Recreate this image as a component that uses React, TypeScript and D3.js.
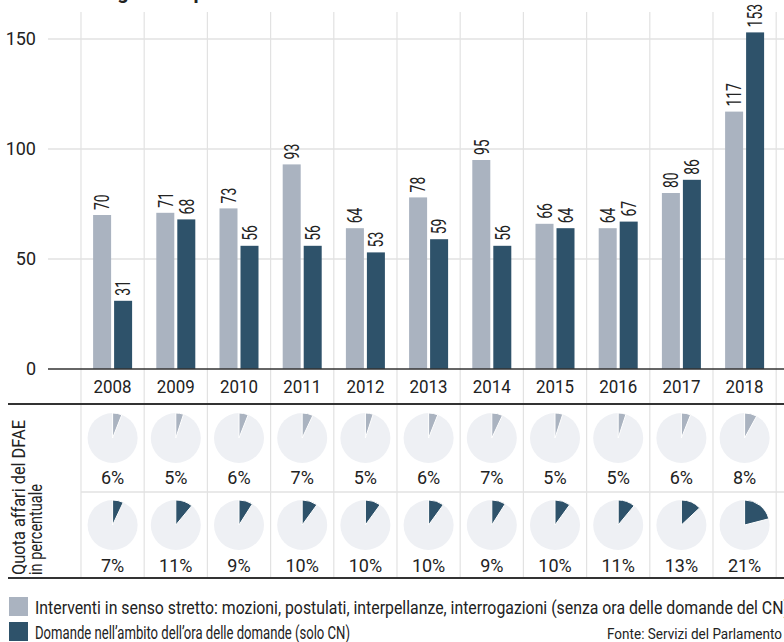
import React from 'react';
import * as d3 from 'd3';

const years = ['2008', '2009', '2010', '2011', '2012', '2013', '2014', '2015', '2016', '2017', '2018'];
const interventi = [70, 71, 73, 93, 64, 78, 95, 66, 64, 80, 117];
const domande = [31, 68, 56, 56, 53, 59, 56, 64, 67, 86, 153];
const quotaInterventi = [6, 5, 6, 7, 5, 6, 7, 5, 5, 6, 8];
const quotaDomande = [7, 11, 9, 10, 10, 10, 9, 10, 11, 13, 21];
const yTicks = [0, 50, 100, 150];

const title = 'Interventi legati alla politica estera in Parlamento';
const legend1 = 'Interventi in senso stretto: mozioni, postulati, interpellanze, interrogazioni (senza ora delle domande del CN)';
const legend2 = 'Domande nell\u2019ambito dell\u2019ora delle domande (solo CN)';
const source = 'Fonte: Servizi del Parlamento';
const rowLabel1 = 'Quota affari del DFAE';
const rowLabel2 = 'in percentuale';

const W = 784;
const H = 642;
const GRAY = '#aab3c0';
const DARK = '#2e526a';
const PIEBG = '#eef0f4';
const GRID = '#e2e2e2';
const INK = '#222';
const FONT = 'Roboto, "Noto Sans", sans-serif';

export default function App() {
  const x = d3.scaleBand<string>().domain(years).range([81, 776.2]).paddingInner(0).paddingOuter(0);
  const y = d3.scaleLinear().domain([0, 150]).range([369, 39]);
  const bw = x.bandwidth();
  const barW = 18;
  const gridXs = [...years.map((yr) => x(yr) as number), x.range()[1]];

  const pie = d3.pie<number>().sort(null).value((d) => d);
  const arc = d3.arc<d3.PieArcDatum<number>>().innerRadius(0).outerRadius(25);

  const valueLabel = (v: number, cx: number, key: string) => (
    <text
      key={key}
      transform={`translate(${cx},${y(v) - 5}) rotate(-90)`}
      textAnchor="start"
      dy="0.36em"
      fontSize={20}
      fill={INK}
      textLength={String(v).length * 7.8}
      lengthAdjust="spacingAndGlyphs"
    >
      {v}
    </text>
  );

  const pieCell = (p: number, cx: number, cy: number, color: string, key: string) => {
    const arcs = pie([p, 100 - p]);
    return (
      <g key={key} transform={`translate(${cx},${cy})`}>
        <circle r={25} fill={PIEBG} />
        <path d={arc(arcs[0]) || ''} fill={color} stroke="#fff" strokeWidth={1} />
      </g>
    );
  };

  return (
    <div style={{ position: 'fixed', left: 0, top: 0, width: W, height: H, background: '#fff' }}>
      <svg width={W} height={H} style={{ display: 'block', fontFamily: FONT }}>
        {/* clipped title */}
        <text x={10} y={-1} fontSize={20} fontWeight={700} fill={INK}>{title}</text>

        {/* horizontal grid */}
        {yTicks.filter((t) => t > 0).map((t) => (
          <line key={'hg' + t} x1={48} x2={W} y1={y(t)} y2={y(t)} stroke={GRID} strokeWidth={1.5} />
        ))}
        {/* vertical grid */}
        {gridXs.map((gx, i) => (
          <line key={'vg' + i} x1={gx} x2={gx} y1={12} y2={578} stroke={GRID} strokeWidth={1.2} />
        ))}
        {/* pie row separator */}
        <line x1={81} x2={W} y1={492} y2={492} stroke={GRID} strokeWidth={1.5} />

        {/* bars */}
        {years.map((yr, i) => {
          const cx = (x(yr) as number) + bw / 2;
          return (
            <g key={'b' + yr}>
              <rect x={cx - 19.5} y={y(interventi[i])} width={barW} height={y(0) - y(interventi[i])} fill={GRAY} />
              <rect x={cx + 1.5} y={y(domande[i])} width={barW} height={y(0) - y(domande[i])} fill={DARK} />
              {valueLabel(interventi[i], cx - 10.5, 'vl1' + yr)}
              {valueLabel(domande[i], cx + 10.5, 'vl2' + yr)}
            </g>
          );
        })}

        {/* y axis labels */}
        {yTicks.map((t) => (
          <text key={'yt' + t} x={36} y={y(t)} dy="0.36em" textAnchor="end" fontSize={18} fill={INK}>{t}</text>
        ))}
        {/* baseline */}
        <line x1={48} x2={W} y1={y(0)} y2={y(0)} stroke="#333" strokeWidth={1.5} />

        {/* year labels */}
        {years.map((yr) => (
          <text key={'yl' + yr} x={(x(yr) as number) + bw / 2} y={393} textAnchor="middle" fontSize={19} fill={INK}
            textLength={38} lengthAdjust="spacingAndGlyphs">{yr}</text>
        ))}

        {/* separators */}
        <line x1={8} x2={W} y1={404} y2={404} stroke="#333" strokeWidth={2} />
        <line x1={8} x2={W} y1={578} y2={578} stroke="#333" strokeWidth={2} />

        {/* pies */}
        {years.map((yr, i) => {
          const cx = (x(yr) as number) + bw / 2;
          return (
            <g key={'p' + yr}>
              {pieCell(quotaInterventi[i], cx, 438, GRAY, 'pa' + yr)}
              <text x={cx} y={484} textAnchor="middle" fontSize={18} fill={INK}>{quotaInterventi[i]}%</text>
              {pieCell(quotaDomande[i], cx, 525, DARK, 'pb' + yr)}
              <text x={cx} y={572} textAnchor="middle" fontSize={18} fill={INK}>{quotaDomande[i]}%</text>
            </g>
          );
        })}

        {/* row label */}
        <text transform="translate(25,575) rotate(-90)" textAnchor="start" fontSize={18} fill={INK}
          textLength={155} lengthAdjust="spacingAndGlyphs">{rowLabel1}</text>
        <text transform="translate(42,575) rotate(-90)" textAnchor="start" fontSize={18} fill={INK}
          textLength={91} lengthAdjust="spacingAndGlyphs">{rowLabel2}</text>

        {/* legend */}
        <rect x={9} y={597} width={19} height={19} fill={GRAY} />
        <text x={35} y={614} fontSize={18} fill={INK} textLength={754} lengthAdjust="spacingAndGlyphs">{legend1}</text>
        <rect x={9} y={622} width={19} height={19} fill={DARK} />
        <text x={35} y={639} fontSize={18} fill={INK} textLength={315} lengthAdjust="spacingAndGlyphs">{legend2}</text>
        <text x={782} y={639} fontSize={15} fill={INK} textAnchor="end" textLength={175} lengthAdjust="spacingAndGlyphs">{source}</text>
      </svg>
    </div>
  );
}
